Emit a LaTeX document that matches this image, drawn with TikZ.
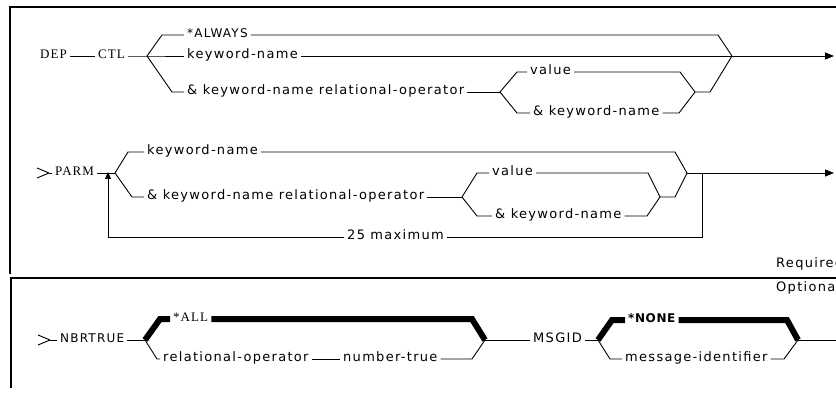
\documentclass[tikz,border=0pt]{standalone}
\usepackage{fontspec}
\usetikzlibrary{arrows.meta}
\newfontfamily\plotfont[LetterSpace=10]{DejaVu Sans}
\newfontfamily\plotbold[LetterSpace=5]{DejaVu Sans}
\newfontfamily\kwfont[LetterSpace=8]{Liberation Serif}

\begin{document}
\begin{tikzpicture}[x=1pt, y=-1pt, line join=miter,
    rail/.style={line width=0.9pt},
    heavy/.style={line width=6pt},
    frame/.style={line width=1.2pt},
    txt/.style={font=\plotfont\fontsize{13}{15}\selectfont, inner xsep=3pt, inner ysep=1pt, anchor=mid west},
    small/.style={txt, font=\plotfont\fontsize{12}{14}\selectfont},
    kw/.style={txt, font=\kwfont\fontsize{13}{15}\selectfont},
    star/.style={txt, font=\plotbold\bfseries\fontsize{12}{14}\selectfont},
    endarrow/.style={-{Triangle[length=9pt,width=7pt]}},
    uparrow/.style={-{Triangle[length=7pt,width=6pt]}}]
  \useasboundingbox (0,0) rectangle (836,393);

  \draw[frame] (836,7) -- (10,7) -- (10,274);
  \draw[frame] (836,278) -- (11,278) -- (11,388);
  \node[txt] (req) at (773,265) {Required};
  \node[txt] (opt) at (773,289) {Optional};

  % DEP CTL
  \coordinate (ctlfork) at (147,56);
  \coordinate (ctljoin) at (732,56);
  \coordinate (valfork) at (500,92);
  \coordinate (valjoin) at (695,92);
  \coordinate (ctlend) at (834,56);
  \node[kw] (dep) at (37,56) {DEP};
  \node[kw] (ctl) at (95,56) {CTL};
  \node[small] (always) at (184,35) {*ALWAYS};
  \node[txt] (kwname) at (184,56) {keyword-name};
  \node[txt] (relop) at (184,92) {\& keyword-name relational-operator};
  \node[txt] (value) at (527,72) {value};
  \node[txt] (ampname) at (530,113) {\& keyword-name};

  \draw[rail] (dep.mid east) -- (ctl.mid west);
  \draw[rail] (ctl.mid east) -- (ctlfork) -- (kwname.mid west);
  \draw[rail] (ctlfork) -- (162,35) -- (always.mid west);
  \draw[rail] (always.mid east) -- (718,35) -- (ctljoin);
  \draw[rail] (kwname.mid east) -- (ctljoin);
  \draw[rail] (ctlfork) -- (172,92) -- (relop.mid west);
  \draw[rail] (relop.mid east) -- (valfork);
  \draw[rail] (valfork) -- (517,72) -- (value.mid west);
  \draw[rail] (value.mid east) -- (680,72) -- (valjoin);
  \draw[rail] (valfork) -- (517,113) -- (ampname.mid west);
  \draw[rail] (ampname.mid east) -- (679,113) -- (valjoin);
  \draw[rail] (valjoin) -- (710,92) -- (ctljoin);
  \draw[rail, endarrow] (ctljoin) -- (ctlend);

  % PARM
  \coordinate (parmstart) at (49,173);
  \coordinate (parmfork) at (115,173);
  \coordinate (parmjoin) at (687,173);
  \coordinate (valfork2) at (462,197);
  \coordinate (valjoin2) at (660,197);
  \coordinate (repeatpt) at (702,173);
  \coordinate (backpt) at (108,172);
  \coordinate (parmend) at (834,173);
  \node[kw] (parm) at (52,173) {PARM};
  \node[txt] (kwname2) at (144,152) {keyword-name};
  \node[txt] (relop2) at (144,197) {\& keyword-name relational-operator};
  \node[txt] (value2) at (489,173) {value};
  \node[txt] (ampname2) at (492,216) {\& keyword-name};
  \node[txt] (maxrep) at (344,237) {25 maximum};

  \draw[rail] (parmstart) -- ++(-12,-5) (parmstart) -- ++(-12,5);
  \draw[rail] (parmstart) -- (parm.mid west);
  \draw[rail] (parm.mid east) -- (parmfork);
  \draw[rail] (parmfork) -- (128,152) -- (kwname2.mid west);
  \draw[rail] (kwname2.mid east) -- (675,152) -- (parmjoin);
  \draw[rail] (parmfork) -- (132,197) -- (relop2.mid west);
  \draw[rail] (relop2.mid east) -- (valfork2);
  \draw[rail] (valfork2) -- (477,173) -- (value2.mid west);
  \draw[rail] (value2.mid east) -- (648,173) -- (valjoin2);
  \draw[rail] (valfork2) -- (477,216) -- (ampname2.mid west);
  \draw[rail] (ampname2.mid east) -- (647,216) -- (valjoin2);
  \draw[rail] (valjoin2) -- (675,197) -- (parmjoin);
  \draw[rail, endarrow] (parmjoin) -- (parmend);
  \draw[rail] (repeatpt) -- (702,237) -- (maxrep.mid east);
  \draw[rail, uparrow] (maxrep.mid west) -- (108,237) -- (backpt);

  % NBRTRUE MSGID
  \coordinate (nbrstart) at (50,340);
  \coordinate (nbrfork) at (145,340);
  \coordinate (nbrjoin) at (485,340);
  \coordinate (msgfork) at (598,340);
  \coordinate (msgjoin) at (798,340);
  \coordinate (msgend) at (836,340);
  \node[small] (nbr) at (57,340) {NBRTRUE};
  \node[kw] (all) at (170,319) {*ALL};
  \node[txt] (relop3) at (160,359) {relational-operator};
  \node[txt] (numtrue) at (340,359) {number-true};
  \node[txt] (msgid) at (530,340) {MSGID};
  \node[star] (none) at (625,320) {*NONE};
  \node[txt] (msgident) at (622,359) {message-identifier};

  \draw[rail] (nbrstart) -- ++(-12,-5) (nbrstart) -- ++(-12,5);
  \draw[rail] (nbrstart) -- (nbr.mid west);
  \draw[rail] (nbr.mid east) -- (nbrfork);
  \draw[heavy] (nbrfork) -- (160,319) -- (all.mid west);
  \draw[heavy] (all.mid east) -- (472,319) -- (nbrjoin);
  \draw[rail] (nbrfork) -- (157,359) -- (relop3.mid west);
  \draw[rail] (relop3.mid east) -- (numtrue.mid west);
  \draw[rail] (numtrue.mid east) -- (472,359) -- (nbrjoin);
  \draw[rail] (nbrjoin) -- (msgid.mid west);
  \draw[rail] (msgid.mid east) -- (msgfork);
  \draw[heavy] (msgfork) -- (612,320) -- (none.mid west);
  \draw[heavy] (none.mid east) -- (787,320) -- (msgjoin);
  \draw[rail] (msgfork) -- (610,359) -- (msgident.mid west);
  \draw[rail] (msgident.mid east) -- (784,359) -- (msgjoin);
  \draw[rail] (msgjoin) -- (msgend);
\end{tikzpicture}
\end{document}
